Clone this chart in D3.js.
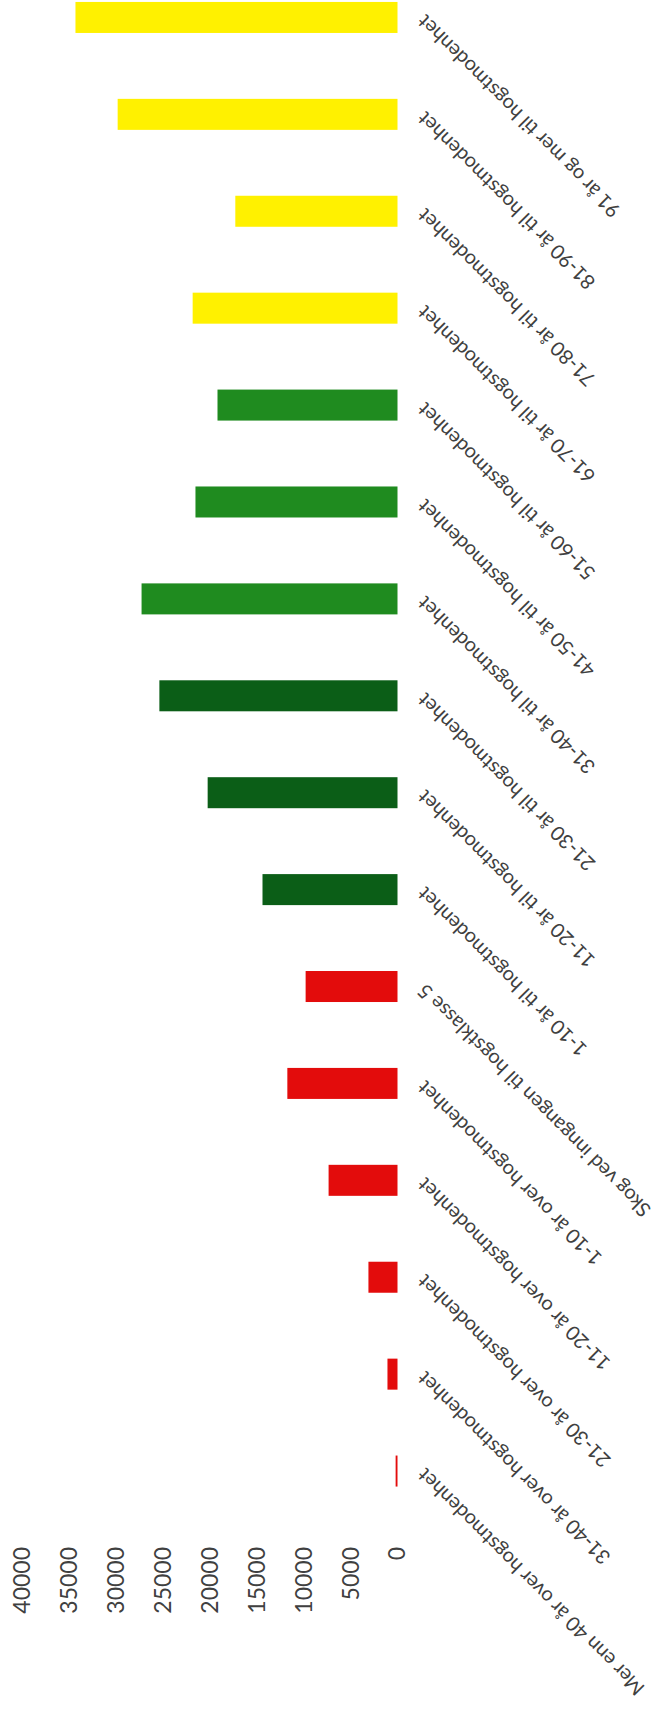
<!DOCTYPE html>
<html>
<head>
<meta charset="utf-8">
<script src="https://cdn.jsdelivr.net/npm/d3@7"></script>
<style>
	body { margin: 0; background: #fff; }
	svg { display: block; }
</style>
</head>
<body>
<div id="chart"></div>
<script>
var categories = [
	'Mer enn 40 år over hogstmodenhet',
	'31-40 år over hogstmodenhet',
	'21-30 år over hogstmodenhet',
	'11-20 år over hogstmodenhet',
	'1-10 år over hogstmodenhet',
	'Skog ved inngangen til hogstklasse 5',
	'1-10 år til hogstmodenhet',
	'11-20 år til hogstmodenhet',
	'21-30 år til hogstmodenhet',
	'31-40 år til hogstmodenhet',
	'41-50 år til hogstmodenhet',
	'51-60 år til hogstmodenhet',
	'61-70 år til hogstmodenhet',
	'71-80 år til hogstmodenhet',
	'81-90 år til hogstmodenhet',
	'91 år og mer til hogstmodenhet'
];

var values = [200, 1070, 3100, 7350, 11750, 9800, 14400, 20250, 25400, 27300, 21550, 19200, 21850, 17300, 29850, 34350];

var groups = ['moden', 'moden', 'moden', 'moden', 'moden', 'moden',
	'naer', 'naer', 'naer', 'middels', 'middels', 'middels',
	'fjern', 'fjern', 'fjern', 'fjern'];

var tickValues = [0, 5000, 10000, 15000, 20000, 25000, 30000, 35000, 40000];

var width = 665;
var height = 1721;

var svg = d3.select('#chart').append('svg').attr('width', width).attr('height', height);

// the chart is laid out as an ordinary column chart and turned a quarter turn
var g = svg.append('g').attr('transform', 'translate(0,' + height + ') rotate(-90)');

var x = d3.scaleBand()
	.domain(categories)
	.range([201.5, 1752])
	.paddingInner(0.68)
	.paddingOuter(0.34);

var y = d3.scaleLinear().domain([0, 40000]).range([397.5, 22.5]);

var color = d3.scaleOrdinal()
	.domain(['moden', 'naer', 'middels', 'fjern'])
	.range(['#e30c0c', '#0b5e17', '#1f8b1f', '#fff100']);

g.selectAll('rect.bar')
	.data(categories)
	.enter()
	.append('rect')
	.attr('class', 'bar')
	.attr('x', function (d) { return x(d); })
	.attr('width', x.bandwidth())
	.attr('y', function (d, i) { return y(values[i]); })
	.attr('height', function (d, i) { return y(0) - y(values[i]); })
	.attr('fill', function (d, i) { return color(groups[i]); });

var yAxis = g.append('g')
	.attr('transform', 'translate(180,0)')
	.call(d3.axisLeft(y).tickValues(tickValues).tickSize(0).tickPadding(6).tickFormat(d3.format('d')));

yAxis.select('.domain').remove();
yAxis.attr('font-family', 'Lato, sans-serif').attr('font-size', 23);
yAxis.selectAll('text').attr('fill', '#404040');

g.selectAll('text.cat')
	.data(categories)
	.enter()
	.append('text')
	.attr('class', 'cat')
	.attr('transform', function (d) {
		return 'translate(' + (x(d) + x.bandwidth() / 2 + 4) + ',426) rotate(-45)';
	})
	.attr('text-anchor', 'end')
	.attr('font-family', 'Lato, sans-serif')
	.attr('font-size', 20)
	.attr('fill', '#404040')
	.text(function (d) { return d; });
</script>
</body>
</html>
